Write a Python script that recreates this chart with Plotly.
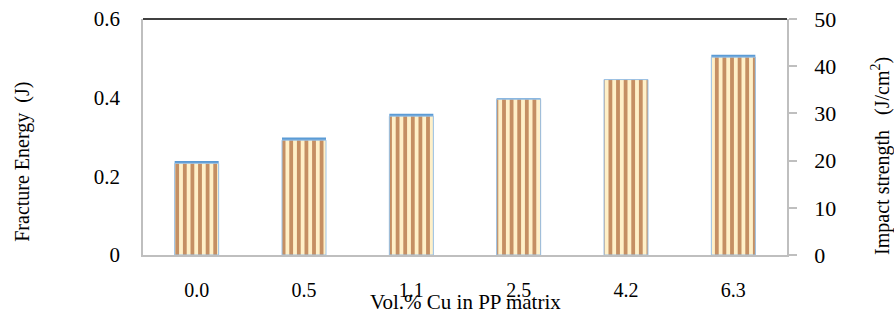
import plotly.graph_objects as go

categories = ["0.0", "0.5", "1.1", "2.5", "4.2", "6.3"]
fracture_energy = [0.233, 0.292, 0.353, 0.396, 0.446, 0.503]   # J, left axis
impact_strength = [19.9, 24.9, 29.9, 33.2, 37.3, 42.4]         # J/cm2, right axis

left_ticks = [0, 0.2, 0.4, 0.6]
left_ticktext = ["0", "0.2", "0.4", "0.6"]
right_ticks = [0, 10, 20, 30, 40, 50]

FONT = "Liberation Serif, Times New Roman, serif"
GRAY = "#BFBFBF"

fig = go.Figure()

# Impact strength bars (blue) drawn behind, on right axis
fig.add_trace(go.Bar(
    x=categories, y=impact_strength, yaxis="y", width=0.41,
    marker=dict(color="#5B9BD5", line=dict(width=0)),
    name="Impact strength", showlegend=False,
))

# Fracture energy bars (striped) in front, on left axis
fig.add_trace(go.Bar(
    x=categories, y=fracture_energy, yaxis="y2", width=0.41,
    marker=dict(
        color="#FFF0C8",
        line=dict(color="#9DC3E6", width=1),
        pattern=dict(shape="|", fgcolor="#C58F63", bgcolor="#FFF0C8",
                     size=7.6, solidity=0.5, fillmode="replace"),
    ),
    name="Fracture Energy", showlegend=False,
))

fig.update_layout(
    width=894, height=312,
    margin=dict(l=143, r=107, t=19, b=57, autoexpand=False),
    paper_bgcolor="white", plot_bgcolor="white",
    barmode="overlay",
    font=dict(family=FONT, size=21, color="black"),
    xaxis=dict(
        type="category", showgrid=False, zeroline=False,
        showline=True, linecolor=GRAY, linewidth=1.5,
        ticks="", ticklabelstandoff=16,
        tickfont=dict(size=20),
        automargin=False,
    ),
    yaxis=dict(
        side="right", range=[0, 50], tickvals=right_ticks,
        showgrid=False, zeroline=False,
        showline=True, linecolor=GRAY, linewidth=1.5,
        ticks="outside", ticklen=8, tickcolor=GRAY, tickwidth=1.5,
        ticklabelstandoff=13, tickfont=dict(size=22),
        automargin=False,
    ),
    yaxis2=dict(
        side="left", overlaying="y", anchor="x", range=[0, 0.6],
        tickvals=left_ticks, ticktext=left_ticktext,
        showgrid=False, zeroline=False,
        showline=True, linecolor=GRAY, linewidth=1.5,
        ticks="", ticklabelstandoff=17, tickfont=dict(size=21),
        automargin=False,
    ),
    shapes=[dict(type="line", xref="paper", yref="paper",
                 x0=0, x1=1, y0=1, y1=1,
                 line=dict(color="black", width=1.5))],
    annotations=[
        dict(text="Vol.% Cu in PP matrix", xref="paper", yref="paper",
             x=0.5, y=-0.2, xanchor="center", yanchor="middle",
             showarrow=False, font=dict(size=21)),
        dict(text="Fracture Energy  (J)", xref="paper", yref="paper",
             x=(23 - 143) / 644, y=0.395, xanchor="center", yanchor="middle",
             textangle=-90, showarrow=False, font=dict(size=20)),
        dict(text="Impact strength   (J/cm<sup>2</sup>)", xref="paper", yref="paper",
             x=(881 - 143) / 644, y=0.42, xanchor="center", yanchor="middle",
             textangle=-90, showarrow=False, font=dict(size=20)),
    ],
)

fig.write_html("out.html", config={"displayModeBar": False},
               post_script="document.body.style.margin='0';")
